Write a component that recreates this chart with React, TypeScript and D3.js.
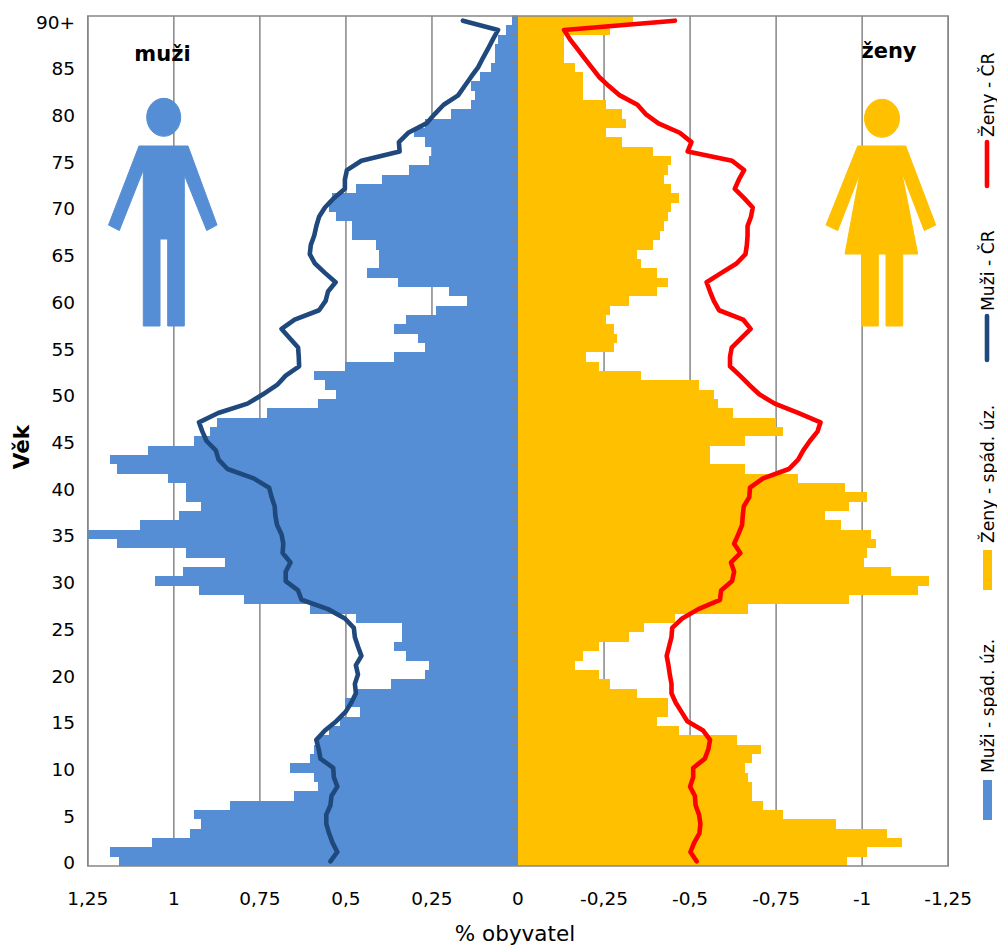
import { useEffect, useRef } from "react";
import * as d3 from "d3";

// podíl obyvatel podle věku, index = věk 0..90+
const ages = d3.range(0, 91);

const menDistrict = [
  1.159, 1.186, 1.063, 0.953, 0.92, 0.94, 0.838, 0.65, 0.582, 0.593, 0.662, 0.605, 0.593, 0.58, 0.549, 0.516,
  0.459, 0.502, 0.47, 0.37, 0.271, 0.259, 0.324, 0.36, 0.336, 0.336, 0.471, 0.605, 0.797, 0.928, 1.054, 0.973,
  0.851, 0.964, 1.165, 1.25, 1.099, 0.985, 0.92, 0.964, 0.964, 1.017, 1.165, 1.186, 1.075, 0.94, 0.895, 0.874,
  0.728, 0.582, 0.528, 0.56, 0.593, 0.502, 0.36, 0.271, 0.291, 0.36, 0.324, 0.237, 0.148, 0.201, 0.348, 0.439,
  0.405, 0.405, 0.413, 0.483, 0.483, 0.528, 0.549, 0.54, 0.471, 0.394, 0.317, 0.259, 0.251, 0.271, 0.303, 0.271,
  0.194, 0.137, 0.124, 0.137, 0.111, 0.079, 0.068, 0.068, 0.058, 0.036, 0.018,
];

const womenDistrict = [
  -0.955, -1.015, -1.117, -1.072, -0.925, -0.77, -0.713, -0.68, -0.68, -0.669, -0.659, -0.68, -0.705, -0.636,
  -0.468, -0.403, -0.436, -0.436, -0.346, -0.268, -0.235, -0.167, -0.19, -0.235, -0.322, -0.367, -0.456, -0.669,
  -0.961, -1.162, -1.195, -1.083, -1.006, -1.015, -1.039, -1.027, -0.938, -0.893, -0.961, -1.015, -0.95, -0.815,
  -0.659, -0.558, -0.558, -0.659, -0.77, -0.749, -0.624, -0.582, -0.57, -0.525, -0.357, -0.235, -0.199, -0.28,
  -0.288, -0.28, -0.257, -0.268, -0.322, -0.403, -0.436, -0.403, -0.357, -0.346, -0.391, -0.412, -0.424, -0.436,
  -0.446, -0.468, -0.446, -0.424, -0.436, -0.446, -0.391, -0.301, -0.256, -0.313, -0.301, -0.257, -0.19, -0.19,
  -0.19, -0.167, -0.134, -0.134, -0.134, -0.268, -0.334,
];

const menCR = [
  0.545, 0.525, 0.539, 0.549, 0.557, 0.557, 0.545, 0.542, 0.525, 0.535, 0.537, 0.574, 0.579, 0.586, 0.561, 0.528,
  0.501, 0.484, 0.471, 0.474, 0.465, 0.471, 0.455, 0.465, 0.474, 0.477, 0.503, 0.552, 0.629, 0.639, 0.675, 0.675,
  0.661, 0.684, 0.682, 0.687, 0.7, 0.705, 0.707, 0.716, 0.723, 0.768, 0.844, 0.87, 0.878, 0.905, 0.917, 0.927,
  0.871, 0.786, 0.741, 0.7, 0.675, 0.636, 0.637, 0.639, 0.663, 0.687, 0.649, 0.578, 0.559, 0.552, 0.53, 0.561,
  0.59, 0.605, 0.602, 0.592, 0.586, 0.578, 0.561, 0.535, 0.503, 0.503, 0.497, 0.455, 0.344, 0.346, 0.319, 0.266,
  0.242, 0.216, 0.174, 0.155, 0.136, 0.116, 0.102, 0.087, 0.073, 0.058, 0.16,
];

const womenCR = [
  -0.519, -0.501, -0.512, -0.527, -0.53, -0.526, -0.516, -0.514, -0.5, -0.509, -0.509, -0.543, -0.553, -0.558,
  -0.538, -0.492, -0.475, -0.458, -0.446, -0.446, -0.441, -0.437, -0.432, -0.439, -0.446, -0.448, -0.477, -0.524,
  -0.587, -0.59, -0.622, -0.628, -0.619, -0.646, -0.628, -0.64, -0.651, -0.653, -0.656, -0.672, -0.674, -0.712,
  -0.787, -0.814, -0.829, -0.848, -0.87, -0.879, -0.814, -0.746, -0.701, -0.672, -0.645, -0.616, -0.616, -0.621,
  -0.648, -0.676, -0.654, -0.584, -0.569, -0.558, -0.548, -0.591, -0.635, -0.661, -0.665, -0.667, -0.667, -0.677,
  -0.682, -0.657, -0.63, -0.642, -0.657, -0.622, -0.493, -0.504, -0.47, -0.408, -0.371, -0.347, -0.296, -0.264,
  -0.235, -0.214, -0.193, -0.172, -0.151, -0.134, -0.456,
];

const xTicks = [1.25, 1, 0.75, 0.5, 0.25, 0, -0.25, -0.5, -0.75, -1, -1.25];
const ageLabels = d3.range(0, 91, 5);

const legendItems = [
  { label: "Ženy - ČR", kind: "line", color: "#FF0000", y: 186 },
  { label: "Muži - ČR", kind: "line", color: "#1F497D", y: 360 },
  { label: "Ženy - spád. úz.", kind: "rect", color: "#FFC000", y: 590 },
  { label: "Muži - spád. úz.", kind: "rect", color: "#558ED5", y: 820 },
];

const MEN_BAR = "#558ED5";
const WOMEN_BAR = "#FFC000";
const FONT = "'DejaVu Sans', sans-serif";

const fmt = (d: number) => String(d).replace(".", ",");

export default function App() {
  const ref = useRef<SVGSVGElement | null>(null);

  useEffect(() => {
    if (!ref.current) return;
    const svg = d3.select(ref.current);
    svg.selectAll("*").remove();

    const x = d3.scaleLinear().domain([1.25, -1.25]).range([87.8, 948.2]);
    const y = d3.scaleBand<number>().domain(ages).range([866, 16]);
    const band = y.bandwidth();
    const mid = (a: number) => (y(a) as number) + band / 2;

    // mrizka
    svg.append("g")
      .selectAll("line")
      .data(xTicks)
      .join("line")
      .attr("x1", (d) => x(d))
      .attr("x2", (d) => x(d))
      .attr("y1", 16)
      .attr("y2", 866)
      .attr("stroke", "#868686")
      .attr("stroke-width", 1.5);

    // sloupce
    const bars = (values: number[], color: string) =>
      svg.append("g")
        .attr("shape-rendering", "crispEdges")
        .selectAll("rect")
        .data(values)
        .join("rect")
        .attr("x", (d) => Math.min(x(0), x(d)))
        .attr("width", (d) => Math.abs(x(d) - x(0)))
        .attr("y", (_, i) => y(ages[i]) as number)
        .attr("height", band)
        .attr("fill", color);
    bars(menDistrict, MEN_BAR);
    bars(womenDistrict, WOMEN_BAR);

    // ramecek
    svg.append("rect")
      .attr("x", x(1.25))
      .attr("y", 16)
      .attr("width", x(-1.25) - x(1.25))
      .attr("height", 850)
      .attr("fill", "none")
      .attr("stroke", "#868686")
      .attr("stroke-width", 1.5);

    // znacky na ose vek
    svg.append("g")
      .selectAll("line")
      .data(ages)
      .join("line")
      .attr("x1", x(0) - 6.5)
      .attr("x2", x(0))
      .attr("y1", (d) => y(d) as number)
      .attr("y2", (d) => y(d) as number)
      .attr("stroke", "#868686")
      .attr("stroke-width", 1);

    // krivky CR
    const curve = d3.line<number>()
      .x((d) => x(d))
      .y((_, i) => mid(ages[i]));
    const drawCurve = (values: number[], color: string) =>
      svg.append("path")
        .attr("d", curve(values))
        .attr("fill", "none")
        .attr("stroke", color)
        .attr("stroke-width", 4.6)
        .attr("stroke-linecap", "round")
        .attr("stroke-linejoin", "round");
    drawCurve(menCR, "#1F497D");
    drawCurve(womenCR, "#FF0000");

    // popisky os
    svg.append("g")
      .attr("font-family", FONT)
      .attr("font-size", 18.5)
      .attr("text-anchor", "middle")
      .selectAll("text")
      .data(xTicks)
      .join("text")
      .attr("x", (d) => x(d))
      .attr("y", 905)
      .text(fmt);

    svg.append("g")
      .attr("font-family", FONT)
      .attr("font-size", 18.5)
      .attr("text-anchor", "end")
      .selectAll("text")
      .data(ageLabels)
      .join("text")
      .attr("x", 75)
      .attr("y", (d) => mid(d) + 8)
      .text((d) => (d === 90 ? "90+" : String(d)));

    svg.append("text")
      .attr("x", 515)
      .attr("y", 941)
      .attr("text-anchor", "middle")
      .attr("font-family", FONT)
      .attr("font-size", 21.5)
      .text("% obyvatel");

    svg.append("text")
      .attr("transform", "translate(29,447) rotate(-90)")
      .attr("text-anchor", "middle")
      .attr("font-family", FONT)
      .attr("font-size", 21.5)
      .attr("font-weight", "bold")
      .text("Věk");

    // postavy
    const man = svg.append("g").attr("fill", MEN_BAR).attr("stroke", MEN_BAR).attr("stroke-width", 1).attr("stroke-linejoin", "round");
    man.append("ellipse").attr("cx", 163.7).attr("cy", 117.3).attr("rx", 17).attr("ry", 19);
    man.append("path").attr("d", "M139,146L188,146L217,225L206.7,230.5L184.3,175L184.3,326L167.7,326L167.7,239L160,239L160,326L143.3,326L143.3,170L119.3,230.5L108.5,225Z");
    svg.append("text")
      .attr("x", 162.5)
      .attr("y", 61)
      .attr("text-anchor", "middle")
      .attr("font-family", FONT)
      .attr("font-size", 21)
      .attr("font-weight", "bold")
      .text("muži");

    const woman = svg.append("g").attr("fill", WOMEN_BAR).attr("stroke", WOMEN_BAR).attr("stroke-width", 1).attr("stroke-linejoin", "round");
    woman.append("ellipse").attr("cx", 882).attr("cy", 118.3).attr("rx", 17.5).attr("ry", 19);
    woman.append("path").attr("d", "M857.7,146L905.7,146L935.7,225L924.3,230.5L901.7,172L917.7,254L902.7,254L902.7,326L886,326L886,254L878.3,254L878.3,326L861.7,326L861.7,254L845,254L860,173L837.7,230.5L826,225Z");
    svg.append("text")
      .attr("x", 889)
      .attr("y", 58)
      .attr("text-anchor", "middle")
      .attr("font-family", FONT)
      .attr("font-size", 21)
      .attr("font-weight", "bold")
      .text("ženy");

    // legenda
    const legend = svg.append("g");
    legendItems.forEach((it) => {
      if (it.kind === "line") {
        legend.append("line")
          .attr("x1", 987).attr("x2", 987)
          .attr("y1", it.y).attr("y2", it.y - 44)
          .attr("stroke", it.color)
          .attr("stroke-width", 4.6)
          .attr("stroke-linecap", "round");
      } else {
        legend.append("rect")
          .attr("x", 983).attr("y", it.y - 40)
          .attr("width", 9).attr("height", 40)
          .attr("fill", it.color);
      }
      legend.append("text")
        .attr("transform", `translate(994,${it.y - (it.kind === "line" ? 49 : 47)}) rotate(-90)`)
        .attr("font-family", FONT)
        .attr("font-size", 17.2)
        .text(it.label);
    });
  }, []);

  return (
    <svg
      ref={ref}
      width={997}
      height={945}
      style={{ position: "absolute", left: 0, top: 0, background: "#fff" }}
    />
  );
}
